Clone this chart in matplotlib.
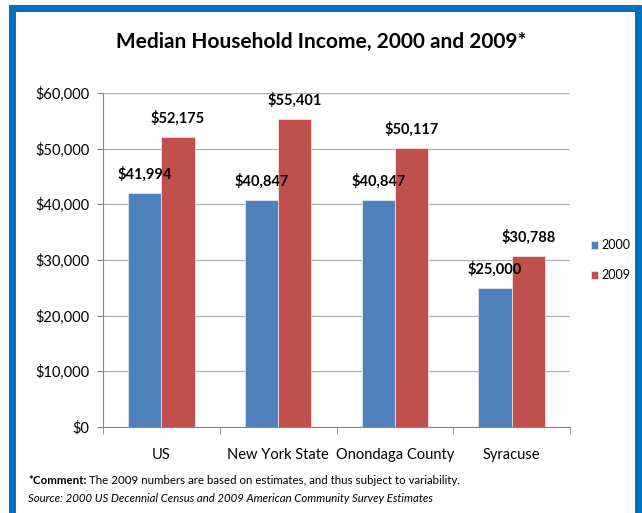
import matplotlib
matplotlib.use("Agg")
import matplotlib.pyplot as plt
import numpy as np
from matplotlib.patches import Rectangle

categories = ["US", "New York State", "Onondaga County", "Syracuse"]
income_2000 = [41994, 40847, 40847, 25000]
income_2009 = [52175, 55401, 50117, 30788]
series_names = ["2000", "2009"]
yticks = [0, 10000, 20000, 30000, 40000, 50000, 60000]

plt.rcParams['font.family'] = ['Lato', 'DejaVu Sans']

fig = plt.figure(figsize=(6.42, 5.13), dpi=100)
# blue frame
fig.patches.append(Rectangle((12/642, -0.05), 626/642, 1 - 8/513 + 0.05, transform=fig.transFigure,
                             fill=False, edgecolor="#0070C0", linewidth=5, zorder=10))

ax = fig.add_axes([103/642, 1 - 427/513, 467/642, (427 - 93)/513])
x = np.arange(len(categories))
w = 0.285
c1, c2 = "#4F81BD", "#C0504D"
b1 = ax.bar(x - w/2, income_2000, w, color=c1, label=series_names[0], zorder=3,
            edgecolor="#dfe6f0", linewidth=0.6)
b2 = ax.bar(x + w/2, income_2009, w, color=c2, label=series_names[1], zorder=3,
            edgecolor="#f0dede", linewidth=0.6)

for bars, vals in [(b1, income_2000), (b2, income_2009)]:
    for r, v in zip(bars, vals):
        ax.text(r.get_x() + r.get_width()/2, v + 2000, f"${v:,}", ha="center", va="bottom",
                fontsize=10.5, fontweight="bold", color="black")

ax.set_xlim(-0.5, len(categories) - 0.5)
ax.set_ylim(0, 60000)
ax.set_yticks(yticks)
ax.set_yticklabels([f"${v:,}" for v in yticks], fontsize=10.5)
ax.set_xticks(x)
ax.set_xticklabels(categories, fontsize=10.5)
ax.set_xticks(np.arange(-0.5, len(categories)), minor=True)
ax.tick_params(axis="x", which="major", length=0, pad=15)
ax.tick_params(axis="x", which="minor", length=5, color="#888888")
ax.tick_params(axis="y", length=4, color="#888888", pad=6)
ax.grid(axis="y", color="#b0b0b0", linewidth=0.9, zorder=0)
for s in ["top", "right"]:
    ax.spines[s].set_visible(False)
for s in ["left", "bottom"]:
    ax.spines[s].set_color("#888888")

ax.legend(loc="center left", bbox_to_anchor=(1.02, 0.50), frameon=False, fontsize=9,
          handlelength=0.6, handleheight=0.6, handletextpad=0.3, labelspacing=1.45)

fig.text(0.5, 1 - 42/513, "Median Household Income, 2000 and 2009*", ha="center", va="center",
         fontsize=15, fontweight="bold")
t1 = fig.text(28/642, 1 - 480/513, "*Comment:", ha="left", va="center", fontsize=8.3, fontweight="bold")
fig.canvas.draw()
bb = t1.get_window_extent(fig.canvas.get_renderer())
fig.text(bb.x1 / fig.bbox.width + 3/642, 1 - 480/513,
         "The 2009 numbers are based on estimates, and thus subject to variability.",
         ha="left", va="center", fontsize=8.3)
fig.text(28/642, 1 - 498/513, "Source: 2000 US Decennial Census and 2009 American Community Survey Estimates",
         ha="left", va="center", fontsize=8.2, style="italic")

fig.savefig("out.png", dpi=100)
